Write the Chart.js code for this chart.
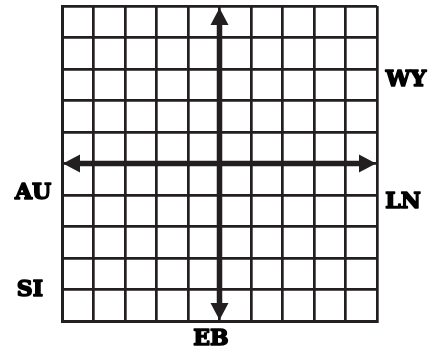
<!DOCTYPE html>
<html>
<head>
<meta charset="utf-8">
<script src="https://cdn.jsdelivr.net/npm/chart.js@4.4.1/dist/chart.umd.min.js"></script>
<style>
  html, body { margin: 0; padding: 0; background: #fff; }
  #wrap { width: 444px; height: 351px; }
</style>
</head>
<body>
<div id="wrap"><canvas id="grid"></canvas></div>
<script>
// plane limits and point labels
var axisMin = -5;
var axisMax = 5;
var placeNames = ['WY', 'LN', 'AU', 'SI', 'EB'];
var placeX = [5.92, 5.83, -5.92, -6.02, -0.27];
var placeY = [2.71, -1.17, -0.87, -3.94, -5.51];

var INK = '#231f20';

// axes with arrow heads, drawn through the chart scales
var axesPlugin = {
    id: 'axesArrows',
    afterDatasetsDraw: function(chart) {
        var ctx = chart.ctx;
        var xs = chart.scales.x, ys = chart.scales.y;
        var cx = xs.getPixelForValue(0), cy = ys.getPixelForValue(0);
        var left = xs.getPixelForValue(axisMin), right = xs.getPixelForValue(axisMax);
        var top = ys.getPixelForValue(axisMax), bottom = ys.getPixelForValue(axisMin);
        var head = 17, half = 9;
        ctx.save();
        ctx.strokeStyle = INK;
        ctx.fillStyle = INK;
        ctx.lineWidth = 5.5;
        ctx.beginPath();
        ctx.moveTo(left + head, cy); ctx.lineTo(right - head, cy);
        ctx.moveTo(cx, top + head); ctx.lineTo(cx, bottom - head);
        ctx.stroke();
        function tri(x1, y1, x2, y2, x3, y3) {
            ctx.beginPath();
            ctx.moveTo(x1, y1); ctx.lineTo(x2, y2); ctx.lineTo(x3, y3);
            ctx.closePath(); ctx.fill();
        }
        tri(left + 1, cy, left + 1 + head, cy - half, left + 1 + head, cy + half);
        tri(right - 1, cy, right - 1 - head, cy - half, right - 1 - head, cy + half);
        tri(cx, top + 2, cx - half, top + 2 + head, cx + half, top + 2 + head);
        tri(cx, bottom - 1, cx - half, bottom - 1 - head, cx + half, bottom - 1 - head);
        ctx.restore();
    }
};

var labelsPlugin = {
    id: 'placeLabels',
    afterDraw: function(chart) {
        var ctx = chart.ctx;
        var xs = chart.scales.x, ys = chart.scales.y;
        ctx.save();
        ctx.fillStyle = '#000';
        ctx.strokeStyle = '#000';
        ctx.lineWidth = 1.6;
        ctx.lineJoin = 'round';
        ctx.font = 'bold 22px "DejaVu Serif"';
        ctx.textAlign = 'center';
        ctx.textBaseline = 'alphabetic';
        placeNames.forEach(function(name, i) {
            var m = ctx.measureText(name);
            var px = xs.getPixelForValue(placeX[i]);
            var py = ys.getPixelForValue(placeY[i]) + m.actualBoundingBoxAscent / 2;
            ctx.fillText(name, px, py);
            ctx.strokeText(name, px, py);
        });
        ctx.restore();
    }
};

new Chart(document.getElementById('grid'), {
    type: 'scatter',
    data: {
        datasets: [{
            data: placeNames.map(function(n, i) { return { x: placeX[i], y: placeY[i] }; }),
            pointRadius: 0,
            showLine: false
        }]
    },
    options: {
        responsive: true,
        maintainAspectRatio: false,
        animation: false,
        layout: { padding: { left: 62, right: 67, top: 6, bottom: 30 } },
        plugins: { legend: { display: false }, tooltip: { enabled: false } },
        scales: {
            x: {
                type: 'linear', min: axisMin, max: axisMax,
                ticks: { display: false, stepSize: 1 },
                grid: { color: INK, lineWidth: 2.7, drawTicks: false },
                border: { color: INK, width: 3 }
            },
            y: {
                type: 'linear', min: axisMin, max: axisMax,
                ticks: { display: false, stepSize: 1 },
                grid: { color: INK, lineWidth: 2.7, drawTicks: false },
                border: { color: INK, width: 3 }
            }
        }
    },
    plugins: [axesPlugin, labelsPlugin]
});
</script>
</body>
</html>
